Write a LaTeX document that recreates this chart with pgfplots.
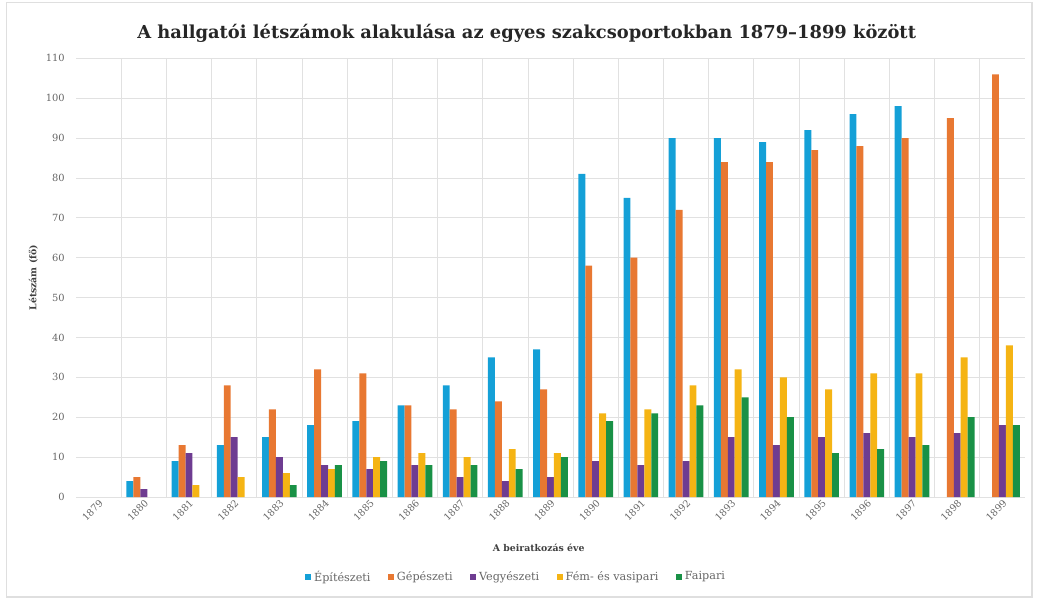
\documentclass[border=0pt]{standalone}
\usepackage{pgfplots}
\pgfplotsset{compat=1.18}
\usepackage{fontspec}
\setmainfont{DejaVu Serif}
\definecolor{cEp}{RGB}{20,160,215}
\definecolor{cGep}{RGB}{232,120,50}
\definecolor{cVegy}{RGB}{110,60,145}
\definecolor{cFem}{RGB}{245,180,20}
\definecolor{cFa}{RGB}{25,145,70}
\definecolor{gridc}{RGB}{225,225,225}
\begin{document}
\begin{tikzpicture}
\path[use as bounding box] (-57pt,-78pt) rectangle (721.5pt,372.75pt);
\draw[gray!25, line width=0.8pt] (-52pt,-75pt) rectangle (717pt,371pt);
\begin{axis}[
  scale only axis,
  width=711.75pt, height=329pt,
  ybar=0pt, bar width=5.2pt,
  xmin=-0.5, xmax=20.5,
  ymin=0, ymax=110,
  ytick={0,10,...,110},
  xtick={0,...,20},
  xticklabels={1879,1880,1881,1882,1883,1884,1885,1886,1887,1888,1889,1890,1891,1892,1893,1894,1895,1896,1897,1898,1899},
  x tick label style={rotate=45, anchor=north east, font=\fontsize{7.2}{8}\selectfont, text=gray!80!black, inner sep=1pt},
  y tick label style={font=\fontsize{7.4}{8}\selectfont, text=gray!80!black, xshift=-5pt},
  /pgf/number format/assume math mode=true,
  major tick length=0pt, minor tick length=0pt,
  minor xtick={0.5,1.5,...,19.5},
  xminorgrids=true, ymajorgrids=true,
  grid style={gridc, line width=0.6pt},
  minor grid style={gridc, line width=0.6pt},
  axis line style={gridc, line width=0.6pt},
  axis x line*=bottom, axis y line*=left,
  y axis line style={draw=none},
  every axis plot/.append style={draw=none},
  legend style={at={(0.464,-0.182)}, anchor=center, draw=none, legend columns=-1,
    font=\fontsize{8.4}{9}\selectfont, text=gray!80!black,
    /tikz/every even column/.append style={column sep=11pt}},
  legend image code/.code={\fill[#1] (0pt,-2.4pt) rectangle (4.8pt,2.4pt);},
]
\addplot[fill=cEp] coordinates {(1,4)(2,9)(3,13)(4,15)(5,18)(6,19)(7,23)(8,28)(9,35)(10,37)(11,81)(12,75)(13,90)(14,90)(15,89)(16,92)(17,96)(18,98)};
\addplot[fill=cGep] coordinates {(1,5)(2,13)(3,28)(4,22)(5,32)(6,31)(7,23)(8,22)(9,24)(10,27)(11,58)(12,60)(13,72)(14,84)(15,84)(16,87)(17,88)(18,90)(19,95)(20,106)};
\addplot[fill=cVegy] coordinates {(1,2)(2,11)(3,15)(4,10)(5,8)(6,7)(7,8)(8,5)(9,4)(10,5)(11,9)(12,8)(13,9)(14,15)(15,13)(16,15)(17,16)(18,15)(19,16)(20,18)};
\addplot[fill=cFem] coordinates {(2,3)(3,5)(4,6)(5,7)(6,10)(7,11)(8,10)(9,12)(10,11)(11,21)(12,22)(13,28)(14,32)(15,30)(16,27)(17,31)(18,31)(19,35)(20,38)};
\addplot[fill=cFa] coordinates {(4,3)(5,8)(6,9)(7,8)(8,8)(9,7)(10,10)(11,19)(12,21)(13,23)(14,25)(15,20)(16,11)(17,12)(18,13)(19,20)(20,18)};
\legend{Építészeti,Gépészeti,Vegyészeti,Fém- és vasipari,Faipari}
\end{axis}
\node[font=\fontsize{13.4}{15}\selectfont\bfseries, text=black!85] at (338pt,348pt) {A hallgatói létszámok alakulása az egyes szakcsoportokban 1879–1899 között};
\node[font=\fontsize{7}{8}\selectfont\bfseries, text=black!75] at (347pt,-38pt) {A beiratkozás éve};
\node[font=\fontsize{7}{8}\selectfont\bfseries, text=black!75, rotate=90] at (-32pt,164.5pt) {Létszám (fő)};
\end{tikzpicture}
\end{document}
